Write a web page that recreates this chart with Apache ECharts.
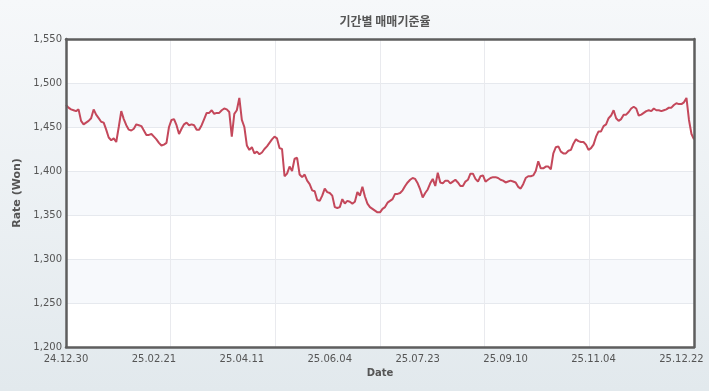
<!DOCTYPE html>
<html>
<head>
<meta charset="utf-8">
<script src="https://cdn.jsdelivr.net/npm/echarts@6/dist/echarts.min.js"></script>
<style>
html,body{margin:0;padding:0;}
#c{width:709px;height:391px;}
</style>
</head>
<body>
<div id="c"></div>
<script>
var titleText = '기간별 매매기준율';
var yAxisName = 'Rate (Won)';
var xAxisName = 'Date';
var tickLabels = ['24.12.30','25.02.21','25.04.11','25.06.04','25.07.23','25.09.10','25.11.04','25.12.22'];
var labelEvery = 35;
var rates = [
1475,1472,1470,1469,1468,1470,1457,1453,1455,1457,
1460,1470,1464,1460,1456,1455,1447,1438,1435,1437,
1433,1450,1468,1459,1452,1447,1446,1448,1453,1452,
1451,1446,1441,1441,1442,1439,1436,1432,1429,1430,
1432,1450,1458,1459,1452,1442,1448,1453,1455,1452,
1453,1452,1447,1447,1452,1459,1466,1466,1469,1465,
1466,1466,1469,1471,1470,1467,1439,1465,1469,1483,
1458,1450,1429,1424,1427,1420,1422,1419,1421,1425,
1428,1432,1436,1439,1437,1426,1425,1394,1397,1405,
1400,1414,1415,1396,1393,1396,1389,1385,1378,1377,
1367,1366,1372,1380,1376,1375,1372,1359,1358,1359,
1368,1363,1366,1365,1363,1365,1376,1372,1382,1371,
1363,1359,1357,1355,1353,1353,1357,1359,1364,1366,
1368,1374,1374,1375,1378,1383,1387,1390,1392,1391,
1386,1379,1370,1375,1379,1386,1391,1383,1398,1387,
1386,1389,1389,1386,1388,1390,1387,1383,1383,1388,
1390,1397,1397,1391,1388,1394,1395,1388,1390,1392,
1393,1393,1392,1390,1389,1387,1388,1389,1388,1387,
1382,1380,1385,1392,1394,1394,1395,1400,1411,1403,
1403,1405,1405,1402,1420,1427,1428,1422,1420,1420,
1423,1424,1431,1436,1434,1433,1433,1430,1424,1426,
1430,1439,1445,1445,1451,1453,1460,1463,1469,1460,
1457,1459,1464,1464,1467,1471,1473,1471,1463,1464,
1466,1468,1469,1468,1471,1469,1469,1468,1469,1470,
1472,1472,1475,1477,1476,1476,1478,1483,1458,1442,
1436
];
var categories = rates.map(function(v, i){
  return (i % labelEvery === 0 && tickLabels[i / labelEvery]) ? tickLabels[i / labelEvery] : '';
});

var FONT = 'DejaVu Sans';
var BORDER = {show: true, onZero: false, lineStyle: {color: '#5e5e5e', width: 2.5}};
var chart = echarts.init(document.getElementById('c'), null, {renderer:'canvas'});
chart.setOption({
  animation: false,
  backgroundColor: {
    type: 'linear', x: 0, y: 0, x2: 0, y2: 1,
    colorStops: [{offset: 0, color: '#f6f8fa'}, {offset: 1, color: '#e2e9ed'}]
  },
  title: {
    text: titleText,
    left: 380, top: 10, textAlign: 'center',
    textStyle: {fontFamily: 'Noto Sans CJK KR', fontSize: 12, fontWeight: 'bold', color: '#555'}
  },
  grid: {
    left: 66, right: 15, top: 39, bottom: 44,
    show: true, backgroundColor: '#ffffff', borderWidth: 0
  },
  xAxis: [{
    type: 'category',
    data: categories,
    boundaryGap: false,
    name: xAxisName,
    nameLocation: 'middle',
    nameGap: 21,
    nameTextStyle: {fontFamily: FONT, fontSize: 10, fontWeight: 'bold', color: '#555'},
    axisLine: BORDER,
    axisTick: {show: false},
    splitLine: {show: false},
    axisLabel: {
      interval: function(i){ return i % labelEvery === 0; },
      margin: 7,
      fontFamily: FONT, fontSize: 10, color: '#555'
    },
    z: 5
  }, {
    type: 'value',
    min: 0, max: 6, interval: 1,
    position: 'top',
    axisLine: BORDER, axisTick: {show: false}, axisLabel: {show: false},
    splitLine: {show: true, lineStyle: {color: '#e9eaee', width: 1}}
  }],
  yAxis: [{
    type: 'value',
    min: 1200, max: 1550, interval: 50,
    name: yAxisName,
    nameLocation: 'middle',
    nameGap: 33,
    nameTextStyle: {fontFamily: FONT, fontSize: 11, fontWeight: 'bold', color: '#555'},
    axisLine: {show: false},
    axisTick: {show: false},
    axisLabel: {
      margin: 4,
      fontFamily: FONT, fontSize: 10, color: '#555',
      formatter: function(v){ return v.toLocaleString('en-US'); }
    },
    splitLine: {show: true, lineStyle: {color: '#e6e9ee', width: 1}},
    splitArea: {show: true, areaStyle: {color: ['#ffffff', '#f7f9fc']}}
  }, {
    type: 'value',
    min: 1200, max: 1550, interval: 50,
    position: 'right',
    axisLine: BORDER, axisTick: {show: false}, axisLabel: {show: false},
    splitLine: {show: false},
    z: 5
  }, {
    type: 'value',
    min: 1200, max: 1550, interval: 50,
    position: 'left', offset: 0,
    axisLine: BORDER, axisTick: {show: false}, axisLabel: {show: false},
    splitLine: {show: false},
    z: 5
  }],
  series: [{
    type: 'line',
    data: rates,
    xAxisIndex: 0,
    yAxisIndex: 0,
    showSymbol: false,
    symbol: 'none',
    lineStyle: {color: '#c4485b', width: 2},
    z: 3
  }]
});
</script>
</body>
</html>
